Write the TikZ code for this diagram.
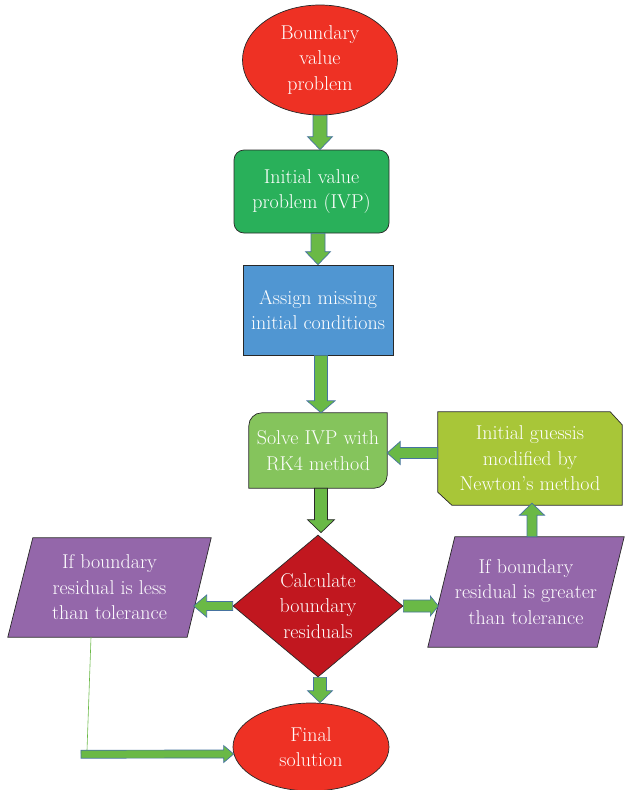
\documentclass[tikz,border=0pt]{standalone}
\usetikzlibrary{shapes.geometric,calc,backgrounds}
\definecolor{cRed}{RGB}{238,49,36}
\definecolor{cDarkRed}{RGB}{193,23,31}
\definecolor{cGreen}{RGB}{41,176,90}
\definecolor{cBlue}{RGB}{80,150,210}
\definecolor{cLight}{RGB}{133,196,92}
\definecolor{cOlive}{RGB}{168,198,56}
\definecolor{cPurple}{RGB}{148,103,170}
\definecolor{cArrow}{RGB}{106,185,70}
\definecolor{cArrowEdge}{RGB}{70,115,160}
\definecolor{cEdge}{RGB}{40,40,40}
\newcommand\blockarr[6][]{%
  \coordinate (bah) at ($(#3)!#6!(#2)$);
  \filldraw[barrow,#1] ($(#2)!#4!90:(#3)$) -- ($(bah)!#4!90:(#3)$) -- ($(bah)!#5!90:(#3)$) -- (#3) -- ($(bah)!#5!-90:(#3)$) -- ($(bah)!#4!-90:(#3)$) -- ($(#2)!#4!-90:(#3)$) -- cycle;}
\begin{document}
\begin{tikzpicture}[x=1pt,y=1pt,
  txt/.style={text=white,font=\fontsize{20}{25.5}\selectfont,align=center},
  shapeedge/.style={draw=cEdge,line width=0.7pt},
  boxnode/.style={txt,rectangle,inner sep=0pt},
  barrow/.style={fill=cArrow,draw=cArrowEdge,line width=0.7pt,line join=miter},
  thinline/.style={draw=cArrow,line width=0.6pt}]
\useasboundingbox (0,0) rectangle (624,-790);
% nodes
\node[ellipse,shapeedge,fill=cRed,minimum width=155pt,minimum height=110pt,inner sep=0pt,
  label={[txt]center:Boundary\\value\\problem}] (bvp) at (320,-60) {};
\node[boxnode,shapeedge,fill=cGreen,rounded corners=10pt,minimum width=155pt,minimum height=83pt] (ivp) at (311.5,-191.5) {Initial value\\problem (IVP)};
\node[boxnode,shapeedge,fill=cBlue,minimum width=150pt,minimum height=90pt] (assign) at (318,-310) {Assign missing\\initial conditions};
\node[boxnode,minimum width=138pt,minimum height=75pt] (solve) at (318,-450.5) {Solve IVP with\\RK4 method};
\node[diamond,shapeedge,fill=cDarkRed,minimum width=170pt,minimum height=142pt,inner sep=0pt,
  label={[txt]center:Calculate\\boundary\\residuals}] (calc) at (318,-606) {};
\node[ellipse,shapeedge,fill=cRed,minimum width=156pt,minimum height=88pt,inner sep=0pt,
  label={[txt]center:Final\\solution}] (fin) at (311,-747) {};
\node[boxnode,minimum width=203pt,minimum height=99pt] (lp) at (109.5,-587.5) {If boundary\\residual is less\\than tolerance};
\node[boxnode,minimum width=196pt,minimum height=110pt] (rp) at (526,-592) {If boundary\\residual is greater\\than tolerance};
\node[boxnode,minimum width=184pt,minimum height=93pt] (nb) at (530,-458.5) {Initial guessis\\modified by\\Newton’s method};
% custom outlines
\begin{scope}[on background layer]
\filldraw[shapeedge,fill=cLight] ([xshift=13pt]solve.north west) -- (solve.north east) -- ([yshift=13pt]solve.south east) arc[start angle=0,end angle=-90,radius=13pt] -- (solve.south west) -- ([yshift=-13pt]solve.north west) arc[start angle=180,end angle=90,radius=13pt] -- cycle;
\filldraw[shapeedge,fill=cPurple] ([xshift=25pt]lp.north west) -- (lp.north east) -- ([xshift=-24pt]lp.south east) -- (lp.south west) -- cycle;
\filldraw[shapeedge,fill=cPurple] ([xshift=27pt]rp.north west) -- (rp.north east) -- ([xshift=-27pt]rp.south east) -- (rp.south west) -- cycle;
\filldraw[shapeedge,fill=cOlive] (nb.north west) -- ([xshift=-12pt]nb.north east) -- ([yshift=-13pt]nb.north east) -- (nb.south east) -- ([xshift=14pt]nb.south west) -- ([yshift=13pt]nb.south west) -- cycle;
\end{scope}
% connector coordinates
\coordinate (a1s) at (bvp.south);
\coordinate (a1e) at (bvp.south |- ivp.north);
\coordinate (a2s) at (assign.north |- ivp.south);
\coordinate (a2e) at (assign.north);
\coordinate (a3s) at ($(assign.south)+(3,0)$);
\coordinate (a3e) at ($(solve.north)+(3,0)$);
\coordinate (a4s) at ($(solve.south)+(3,0)$);
\coordinate (a4e) at ($(calc.north)+(3,2)$);
\coordinate (a5s) at ($(calc.south)+(2,0)$);
\coordinate (a5e) at (a5s |- fin.north);
\coordinate (a6s) at (calc.west);
\coordinate (a6e) at ($(calc.west)+(-39,0)$);
\coordinate (a7s) at (calc.east);
\coordinate (a7e) at ($(calc.east)+(35,0)$);
\coordinate (a8s) at ($(rp.north)+(6,0)$);
\coordinate (a8e) at ($(a8s |- nb.south)+(0,2)$);
\coordinate (a9s) at ($(nb.west)+(0,5.5)$);
\coordinate (a9e) at (solve.east |- a9s);
\coordinate (bstart) at ($(lp.south)+(-28.5,-117)$);
\coordinate (a10e) at ($(fin.west)+(1,-7)$);
\coordinate (lineS) at ($(lp.south)+(-18.5,0)$);
\coordinate (lineE) at ($(bstart)+(6,4)$);
% connectors
\draw[thinline] (lineS) -- (lineE);
\blockarr{a1s}{a1e}{7pt}{12.5pt}{13pt}
\blockarr{a2s}{a2e}{7pt}{12.5pt}{13pt}
\blockarr{a3s}{a3e}{6.5pt}{14pt}{12pt}
\blockarr[draw=cEdge]{a4s}{a4e}{6.5pt}{13.5pt}{13pt}
\blockarr{a5s}{a5e}{6.5pt}{12.5pt}{12pt}
\blockarr{a6s}{a6e}{4.5pt}{11pt}{13pt}
\blockarr{a7s}{a7e}{6pt}{10pt}{8pt}
\blockarr{a8s}{a8e}{5pt}{12.5pt}{12pt}
\blockarr{a9s}{a9e}{5.5pt}{11.5pt}{13pt}
\blockarr{bstart}{a10e}{4pt}{8.5pt}{10pt}
\end{tikzpicture}
\end{document}
